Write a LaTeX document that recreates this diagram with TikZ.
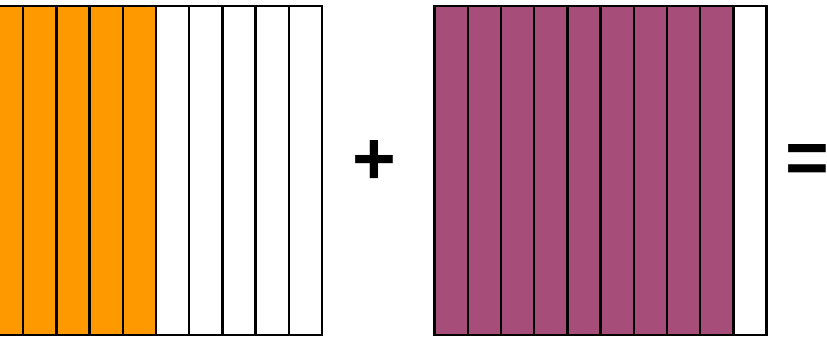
\documentclass[tikz,border=0pt]{standalone}
\usepackage{fontspec}
\setmainfont{Liberation Sans}
\definecolor{stripA}{HTML}{FF9900}
\definecolor{stripB}{HTML}{A64D79}
\begin{document}
\begin{tikzpicture}[x=1pt,y=-1pt,
  strip/.style={draw=black,line width=2.4pt,minimum width=33.2pt,minimum height=329pt,inner sep=0pt,outer sep=0pt,anchor=north west},
  sign/.style={font=\fontsize{75}{75}\selectfont\bfseries,inner sep=0pt}]
\useasboundingbox (0,0) rectangle (827,337);
\foreach \i in {0,...,9}{
  \pgfmathsetmacro{\xx}{-10+33.2*\i}
  \ifnum\i<5
    \node[strip,fill=stripA] (a\i) at (\xx,6) {};
  \else
    \node[strip,fill=white] (a\i) at (\xx,6) {};
  \fi
}
\foreach \i in {0,...,9}{
  \pgfmathsetmacro{\xx}{434.5+33.2*\i}
  \ifnum\i<9
    \node[strip,fill=stripB] (b\i) at (\xx,6) {};
  \else
    \node[strip,fill=white] (b\i) at (\xx,6) {};
  \fi
}
\node[sign] (plus) at (374,163) {+};
\node[sign,anchor=west] (eq) at (785,164) {=};
\end{tikzpicture}
\end{document}
